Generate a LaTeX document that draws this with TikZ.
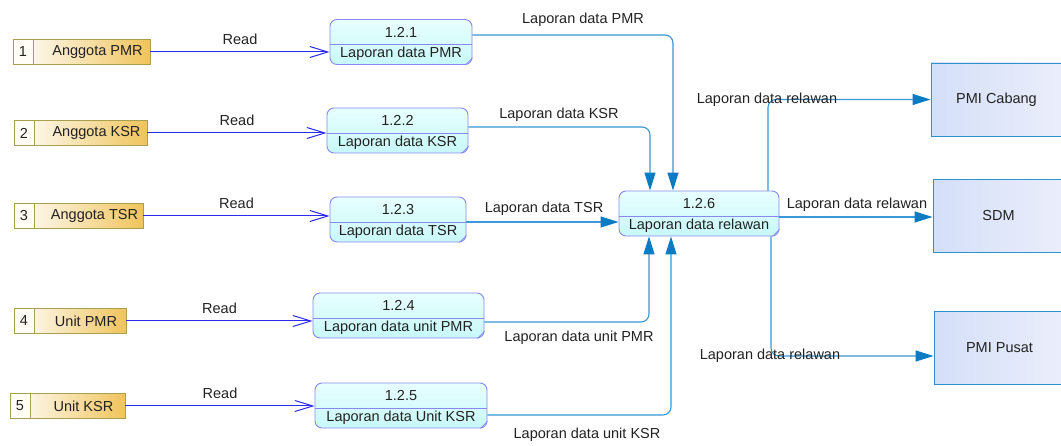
\documentclass[tikz,border=0pt]{standalone}
\usepackage{fontspec}
\setmainfont{Liberation Sans}
\usetikzlibrary{arrows.meta}

\definecolor{procedge}{HTML}{8888F0}
\definecolor{proctop}{HTML}{E8FFFF}
\definecolor{procbot}{HTML}{C8F8F8}
\definecolor{entedge}{HTML}{A8A050}
\definecolor{entleft}{HTML}{FFFFFF}
\definecolor{entright}{HTML}{F0C45C}
\definecolor{entcell}{HTML}{FFFDF5}
\definecolor{extedge}{HTML}{3090D0}
\definecolor{extleft}{HTML}{D4DFF8}
\definecolor{extright}{HTML}{EBEEFB}
\definecolor{readblue}{HTML}{2B2BF0}
\definecolor{flowline}{HTML}{3A98D6}
\definecolor{flowtip}{HTML}{0B7BC4}
\definecolor{txt}{HTML}{222222}

\begin{document}
\begin{tikzpicture}[x=1pt,y=-1pt,
    font=\fontsize{14.5}{17}\selectfont, text=txt,
    proc/.style={draw=procedge, rounded corners=7pt, top color=proctop, bottom color=procbot,
      minimum height=45pt, inner sep=0pt, line width=0.9pt},
    ent/.style={draw=entedge, left color=entleft, right color=entright,
      minimum height=25pt, inner sep=0pt, line width=0.9pt},
    entnum/.style={draw=entedge, fill=entcell, minimum height=25pt, inner sep=0pt,
      line width=0.9pt, anchor=west},
    ext/.style={draw=extedge, left color=extleft, right color=extright,
      minimum width=131pt, minimum height=73pt, line width=0.9pt},
    read/.style={draw=readblue, line width=1pt, -{Straight Barb[length=18pt,width=11pt]}},
    flow/.style={draw=flowline, line width=1.1pt, rounded corners=8pt,
      -{Triangle[length=18pt,width=11pt,color=flowtip]}},
  ]
  \useasboundingbox (0,0) rectangle (1061,446);
  \clip (0,0) rectangle (1061,446);
  \fill[white] (0,0) rectangle (1061,446);

  % processes
  \foreach \n/\x/\y/\w/\lab in {1/401/42/142/Laporan data PMR,
      2/397.5/130.5/141/Laporan data KSR, 3/398/219.5/136/Laporan data TSR,
      4/398.5/315.5/171/Laporan data unit PMR, 5/401/405.5/172/Laporan data Unit KSR,
      6/699/213.5/160/Laporan data relawan} {
    \node[proc, minimum width=\w*1pt] (p\n) at (\x,\y) {};
    \draw[procedge, line width=0.9pt] ([yshift=-2.5pt]p\n.west) -- ([yshift=-2.5pt]p\n.east);
    \draw[procedge, line width=0.7pt] ([xshift=-7pt]p\n.south east) -- ([yshift=7pt]p\n.south east);
    \node (p\n num) at ([yshift=10pt]p\n.center) {1.2.\n};
    \node (p\n lab) at ([yshift=-12pt]p\n.center) {\lab};
  }

  % external entities (left)
  \foreach \n/\xa/\xb/\y/\d/\lab in {1/13/150/52/20/Anggota PMR, 2/14/147/133/20/Anggota KSR,
      3/14/143/216/20/Anggota TSR, 4/14/126/321/20/Unit PMR, 5/10/125/406/20/Unit KSR} {
    \node[ent, minimum width={(\xb-\xa)*1pt}] (e\n) at ({(\xa+\xb)/2},\y) {};
    \node[entnum, minimum width=\d*1pt] (e\n num) at (e\n.west) {\n};
    \node (e\n lab) at ({(\xa+\d+\xb)/2+6},\y) {\lab};
    \draw[read] (e\n.east) -- (e\n.east -| p\n.west) node[midway, above=3.5pt] (rd\n) {Read};
  }

  % external entities (right)
  \node[ext] (r1) at (996.5,99.5) {PMI Cabang};
  \node[ext] (r2) at (998.5,216) {SDM};
  \node[ext] (r3) at (999.5,348) {PMI Pusat};

  % data flows
  \draw[flow] ([yshift=7pt]p1.east) -| ([xshift=-26pt]p6.north);
  \draw[flow] ([yshift=3.5pt]p2.east) -| ([xshift=-49pt]p6.north);
  \draw[flow] ([yshift=-2.5pt]p3.east) -- ([yshift=-2.5pt]p3.east -| p6.west);
  \draw[flow] ([yshift=-6.5pt]p4.east) -| ([xshift=-50pt]p6.south);
  \draw[flow] ([yshift=-9.5pt]p5.east) -| ([xshift=-28pt]p6.south);
  \draw[flow] ([xshift=69pt]p6.north) |- (r1.west);
  \draw[flow] ([yshift=-3.5pt]p6.east) -- ([yshift=-3.5pt]p6.east -| r2.west);
  \draw[flow] ([xshift=72pt]p6.south) |- ([yshift=-8pt]r3.west);

  \node (f1) at (583,20) {Laporan data PMR};
  \node (f2) at (559,115) {Laporan data KSR};
  \node (f3) at (544,209) {Laporan data TSR};
  \node (f4) at (579,338) {Laporan data unit PMR};
  \node (f5) at (587,435) {Laporan data unit KSR};
  \node (f6) at (767,100) {Laporan data relawan};
  \node (f7) at (857,205) {Laporan data relawan};
  \node (f8) at (770,356) {Laporan data relawan};
\end{tikzpicture}
\end{document}
